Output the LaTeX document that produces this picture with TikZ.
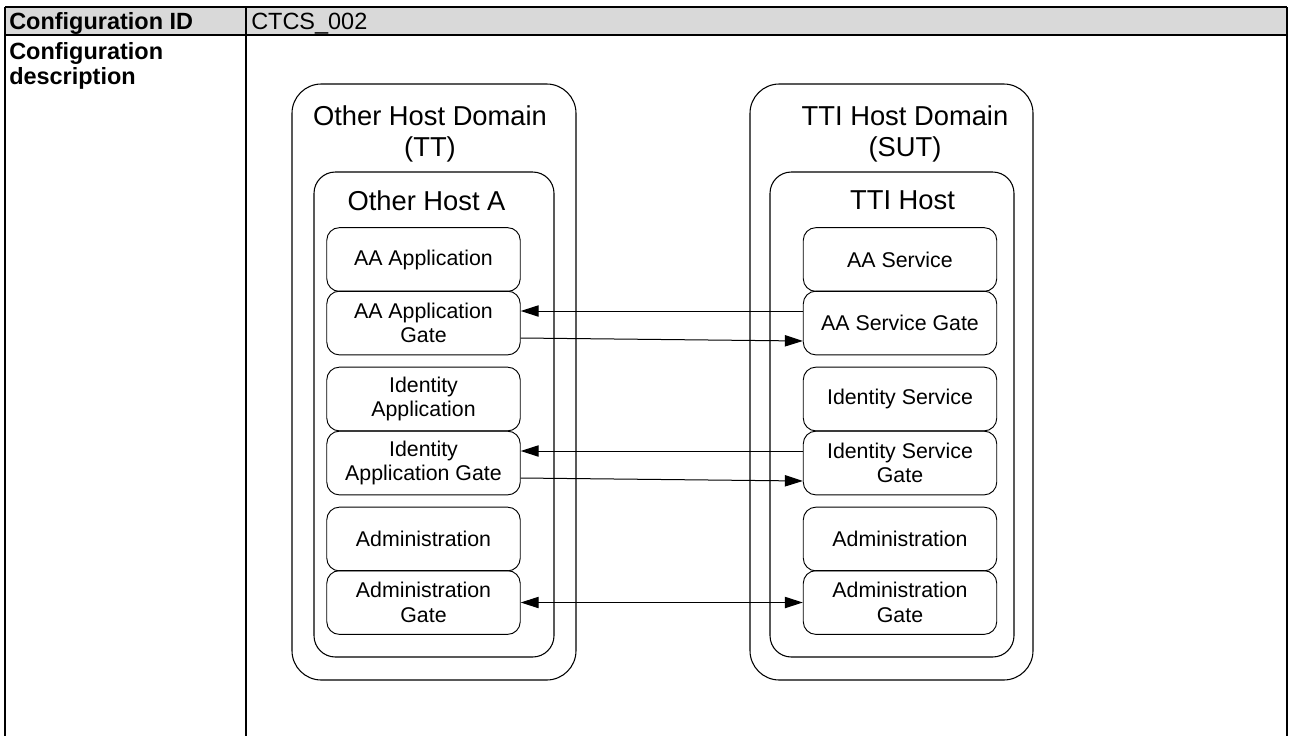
\documentclass[tikz,border=0pt]{standalone}
\usepackage{fontspec}
\setmainfont{Liberation Sans}
\usetikzlibrary{arrows.meta,fit}
\definecolor{hdrgray}{HTML}{D9D9D9}
\begin{document}
\begin{tikzpicture}[x=0.75pt,y=-0.75pt,
  tblline/.style={line width=1.3pt},
  domainbox/.style={draw, line width=0.8pt, rounded corners=22pt, inner sep=0pt},
  hostbox/.style={draw, line width=0.8pt, rounded corners=16pt, inner sep=0pt},
  compbox/.style={draw, line width=0.7pt, rounded corners=9.5pt, inner sep=0pt,
    minimum width=145.1pt, minimum height=47.8pt,
    align=center, font=\fontsize{16}{18.5}\selectfont},
  boxtitle/.style={align=center, inner sep=0pt, font=\fontsize{20.5}{23.5}\selectfont},
  hdrtext/.style={inner sep=0pt, anchor=base west, font=\bfseries\fontsize{17.6}{16}\selectfont},
  link/.style={line width=0.75pt, -{Triangle[length=13.5pt,width=8.5pt]}},
  duplex/.style={line width=0.75pt, {Triangle[length=13.5pt,width=8.5pt]}-{Triangle[length=13.5pt,width=8.5pt]}},
]
\useasboundingbox (0,0) rectangle (1289,736);

% table frame
\fill[hdrgray] (5,7) rectangle (1287,35);
\draw[tblline] (5,7) -- (1287,7);
\draw[tblline] (5,35) -- (1287,35);
\draw[tblline] (5,7) -- (5,736);
\draw[tblline] (246,7) -- (246,736);
\draw[tblline] (1287,7) -- (1287,736);

\node[hdrtext] (cfgid) at (9,29) {Configuration ID};
\node[hdrtext, font=\fontsize{17.6}{16}\selectfont] (cfgval) at (251,29) {CTCS\_002};
\node[hdrtext] (cfgdesc1) at (9,59) {Configuration};
\node[hdrtext] (cfgdesc2) at (9,84) {description};

% domains and hosts
\node[domainbox, fit={(292,84) (576,680)}] (otherdom) {};
\node[domainbox, fit={(750,84) (1033,680)}] (ttidom) {};
\node[hostbox, fit={(314,172) (554,657)}] (otherhost) {};
\node[hostbox, fit={(770,172) (1014,657)}] (ttihost) {};

\node[boxtitle] (otherdomt) at (430,134) {Other Host Domain\\(TT)};
\node[boxtitle] (ttidomt) at (905,134) {TTI Host Domain\\(SUT)};
\node[boxtitle] (otherhostt) at (426.5,201) {Other Host A};
\node[boxtitle] (ttihostt) at (902.5,200) {TTI Host};

% components of Other Host A
\node[compbox] (aaapp) at (423.5,259.5) {AA Application};
\node[compbox] (aaagate) at (423.5,323) {AA Application\\Gate};
\node[compbox] (idapp) at (423.5,399) {Identity\\Application};
\node[compbox] (idagate) at (423.5,463) {Identity\\Application Gate};
\node[compbox] (admleft) at (423.5,539) {Administration};
\node[compbox] (admleftgate) at (423.5,602.5) {Administration\\Gate};

% components of TTI Host
\node[compbox] (aasvc) at (900,259.5) {AA Service};
\node[compbox] (aasgate) at (900,323) {AA Service Gate};
\node[compbox] (idsvc) at (900,399) {Identity Service};
\node[compbox] (idsgate) at (900,463) {Identity Service\\Gate};
\node[compbox] (admright) at (900,539) {Administration};
\node[compbox] (admrightgate) at (900,602.5) {Administration\\Gate};

% gate links
\draw[link] ([yshift=9pt]aasgate.west) -- ([yshift=9pt]aaagate.east);
\draw[link] ([yshift=-11.25pt]aaagate.east) -- ([yshift=-13.5pt]aasgate.west);
\draw[link] ([yshift=9pt]idsgate.west) -- ([yshift=9pt]idagate.east);
\draw[link] ([yshift=-11.25pt]idagate.east) -- ([yshift=-13.5pt]idsgate.west);
\draw[duplex] (admleftgate.east) -- (admrightgate.west);
\end{tikzpicture}
\end{document}
